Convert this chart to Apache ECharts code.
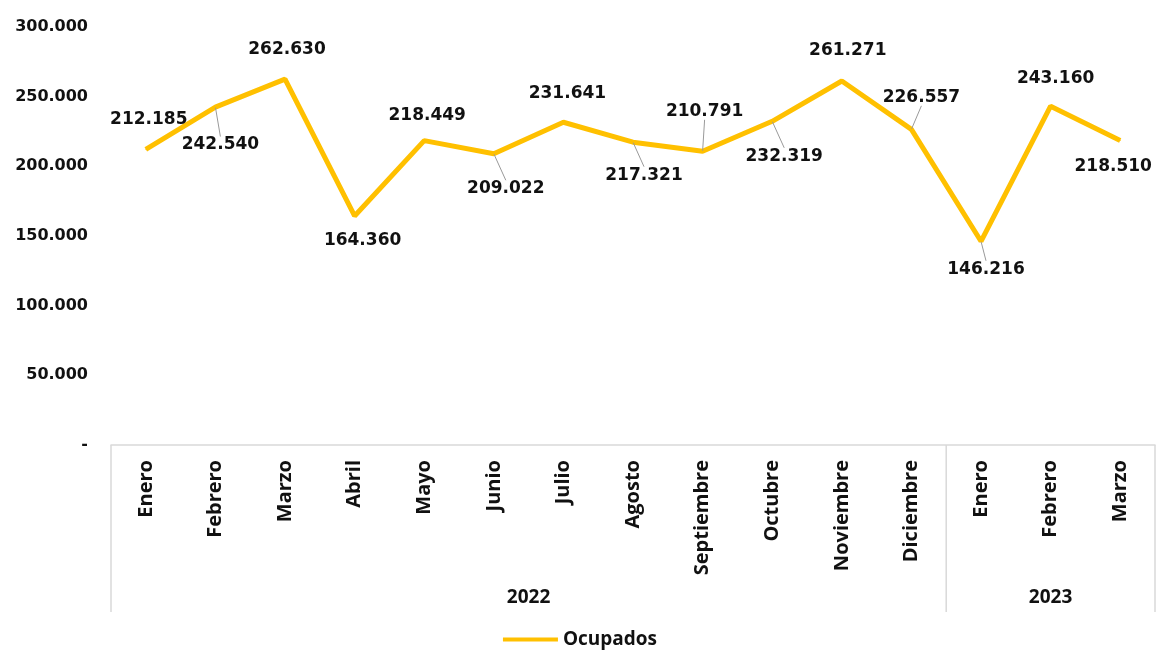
<!DOCTYPE html>
<html>
<head>
<meta charset="utf-8">
<script src="https://cdn.jsdelivr.net/npm/echarts@6/dist/echarts.min.js"></script>
<style>
html,body{margin:0;padding:0;background:#fff}
#chart{width:1160px;height:656px}
</style>
</head>
<body>
<div id="chart"></div>
<script>
let meses = ["Enero","Febrero","Marzo","Abril","Mayo","Junio","Julio","Agosto","Septiembre","Octubre","Noviembre","Diciembre","Enero","Febrero","Marzo"]
let anios = ["2022","2023"]
let mesesPorAnio = [12,3]
let ocupados = [212185,242540,262630,164360,218449,209022,231641,217321,210791,232319,261271,226557,146216,243160,218510]
let yTicks = [0,50000,100000,150000,200000,250000,300000]

// donde va cada etiqueta respecto a su punto
let etiquetaDx = [3,5,2,8,3,12,4,11,2,12,6,10,5,5,-7]
let etiquetaDy = [-30,38,-29,25,-25,35,-29,33,-40,35,-30,-32,28,-28,26]
let conGuia = [false,true,false,false,false,true,false,true,true,true,false,true,true,false,false]

function miles(n){
    if(n===0) return "-"
    return String(n).replace(/\B(?=(\d{3})+(?!\d))/g,".")
}

var myChart = echarts.init(document.getElementById('chart'))

let datos = ocupados.map(function(v,i){
    return {value:v, labelLine:{show:conGuia[i]}}
})

var option = {
    animation:false,
    grid:{left:111,right:5,top:27,bottom:211},
    legend:{
        bottom:2,
        left:'center',
        icon:'rect',
        itemWidth:55,
        itemHeight:4,
        itemGap:4,
        textStyle:{fontFamily:'Open Sans',fontWeight:'bold',fontSize:19,color:'#111'},
        data:['Ocupados']
    },
    xAxis:{
        type:'category',
        data:meses,
        boundaryGap:true,
        axisLine:{lineStyle:{color:'#d9d9d9',width:1.5}},
        axisTick:{show:false},
        axisLabel:{
            rotate:90,
            margin:15,
            interval:0,
            fontFamily:'Open Sans',
            fontWeight:'bold',
            fontSize:20,
            color:'#111'
        }
    },
    yAxis:{
        type:'value',
        min:yTicks[0],
        max:yTicks[yTicks.length-1],
        interval:50000,
        splitLine:{show:false},
        axisLine:{show:false},
        axisTick:{show:false},
        axisLabel:{
            margin:23,
            fontFamily:'DejaVu Sans',
            fontWeight:'bold',
            fontSize:16,
            color:'#111',
            formatter:miles
        }
    },
    series:[{
        name:'Ocupados',
        type:'line',
        data:datos,
        symbol:'circle',
        symbolSize:1,
        showSymbol:true,
        lineStyle:{color:'#FFC000',width:5},
        itemStyle:{color:'#FFC000'},
        label:{
            show:true,
            position:'inside',
            fontFamily:'DejaVu Sans',
            fontWeight:'bold',
            fontSize:17,
            color:'#111',
            formatter:function(p){return miles(p.value)}
        },
        labelLine:{show:false,lineStyle:{color:'#999',width:1}},
        labelLayout:function(p){
            return {dx:etiquetaDx[p.dataIndex],dy:etiquetaDy[p.dataIndex]}
        }
    }]
}
myChart.setOption(option)

// caja de años debajo de los meses
let x0 = myChart.convertToPixel({xAxisIndex:0},0)
let x1 = myChart.convertToPixel({xAxisIndex:0},1)
let ancho = x1-x0
let yBase = myChart.convertToPixel({yAxisIndex:0},0)
let alto = 167
let graficos = []
let inicio = 0
let bordes = [x0-ancho/2]
anios.forEach(function(a,k){
    let izq = x0-ancho/2+inicio*ancho
    let der = izq+mesesPorAnio[k]*ancho
    bordes.push(der)
    graficos.push({
        type:'text',
        x:(izq+der)/2,
        y:yBase+153,
        style:{text:a,fontFamily:'Open Sans',fontWeight:'bold',fontSize:19,fill:'#111',align:'center',verticalAlign:'middle'}
    })
    inicio+=mesesPorAnio[k]
})
bordes.forEach(function(bx){
    graficos.push({
        type:'line',
        shape:{x1:bx,y1:yBase,x2:bx,y2:yBase+alto},
        style:{stroke:'#d9d9d9',lineWidth:1.5}
    })
})
myChart.setOption({graphic:graficos})
</script>
</body>
</html>
